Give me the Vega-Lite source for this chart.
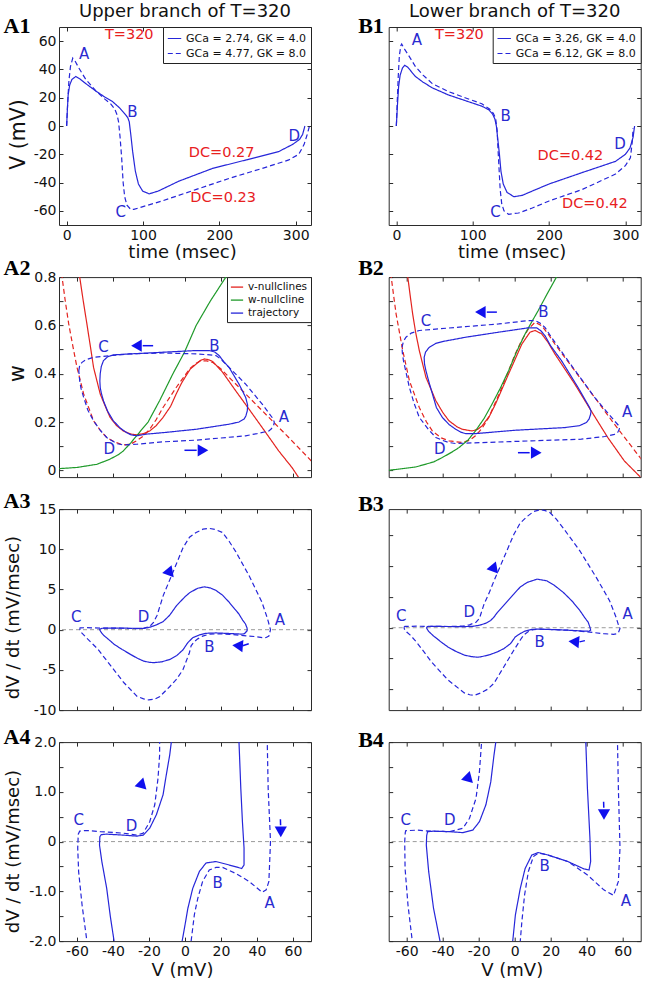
{
"$schema":"https://vega.github.io/schema/vega-lite/v6.json",
"background":"white",
"padding":{"left":2,"top":2,"right":2,"bottom":2},
"config":{
 "font":"DejaVu Sans",
 "view":{"stroke":"#2b2b2b","strokeWidth":1},
 "axis":{"grid":false,"domain":false,"tickSize":-4,"tickColor":"#2b2b2b","tickWidth":1,"labelFontSize":14,"labelColor":"#111","labelPadding":7,"labelFlush":false,"labelOverlap":false,"labelBound":false,"titleFontSize":18,"titleFontWeight":"normal","titleColor":"#111","labelFont":"DejaVu Sans","titleFont":"DejaVu Sans"},
 "legend":{"labelFont":"DejaVu Sans","labelColor":"#111"},
 "text":{"font":"DejaVu Sans"}
},
"datasets":{
 "a1c":[
  {"g":"s","x":0,"y":0},{"g":"s","x":1,"y":12},{"g":"s","x":2,"y":22},{"g":"s","x":4,"y":29},{"g":"s","x":7,"y":33},{"g":"s","x":12,"y":35},{"g":"s","x":18,"y":33},{"g":"s","x":25,"y":30},{"g":"s","x":38,"y":24.8},{"g":"s","x":50,"y":20.5},{"g":"s","x":60,"y":17.3},{"g":"s","x":69,"y":13},{"g":"s","x":75.5,"y":9},{"g":"s","x":80,"y":6},{"g":"s","x":82,"y":3},{"g":"s","x":84,"y":-6},{"g":"s","x":86.4,"y":-17.8},{"g":"s","x":90,"y":-32},{"g":"s","x":94,"y":-41},{"g":"s","x":99.5,"y":-46},{"g":"s","x":108,"y":-48},{"g":"s","x":120,"y":-46},{"g":"s","x":147,"y":-39},{"g":"s","x":191,"y":-30},{"g":"s","x":235,"y":-24},{"g":"s","x":278,"y":-18},{"g":"s","x":296,"y":-13},{"g":"s","x":305,"y":-9.5},{"g":"s","x":309,"y":-6},{"g":"s","x":312,"y":0},
  {"g":"d","x":0,"y":0},{"g":"d","x":1.5,"y":18},{"g":"d","x":3,"y":32},{"g":"d","x":5,"y":42},{"g":"d","x":8,"y":48},{"g":"d","x":11,"y":46},{"g":"d","x":16,"y":41},{"g":"d","x":25,"y":33},{"g":"d","x":38,"y":25},{"g":"d","x":50,"y":19},{"g":"d","x":58,"y":15.5},{"g":"d","x":63,"y":12},{"g":"d","x":66,"y":8},{"g":"d","x":68,"y":3},{"g":"d","x":70,"y":-8},{"g":"d","x":72,"y":-22},{"g":"d","x":74,"y":-40},{"g":"d","x":76,"y":-50},{"g":"d","x":79,"y":-56},{"g":"d","x":84,"y":-59},{"g":"d","x":88,"y":-59},{"g":"d","x":100,"y":-57},{"g":"d","x":125,"y":-53},{"g":"d","x":169,"y":-45},{"g":"d","x":213,"y":-37},{"g":"d","x":256,"y":-30},{"g":"d","x":291,"y":-24},{"g":"d","x":304,"y":-20},{"g":"d","x":311,"y":-13},{"g":"d","x":315,"y":-6},{"g":"d","x":318,"y":0}
 ],
 "a1l":[{"t":"A","x":23,"y":51},{"t":"B","x":86,"y":10},{"t":"C","x":71,"y":-61},{"t":"D","x":298,"y":-7}],
 "a1r":[{"t":"T=320","x":82,"y":64},{"t":"DC=0.27","x":203,"y":-19},{"t":"DC=0.23","x":205,"y":-50.6}],
 "b1c":[
  {"g":"s","x":0,"y":0},{"g":"s","x":1.5,"y":15},{"g":"s","x":3,"y":28},{"g":"s","x":5,"y":36},{"g":"s","x":8,"y":41},{"g":"s","x":11,"y":43},{"g":"s","x":15,"y":41.5},{"g":"s","x":25,"y":35},{"g":"s","x":35,"y":31},{"g":"s","x":47,"y":27},{"g":"s","x":68,"y":22},{"g":"s","x":90,"y":18},{"g":"s","x":112,"y":14},{"g":"s","x":121,"y":11.5},{"g":"s","x":126,"y":8.5},{"g":"s","x":129,"y":5},{"g":"s","x":131,"y":0},{"g":"s","x":133,"y":-10},{"g":"s","x":135,"y":-20},{"g":"s","x":137,"y":-32},{"g":"s","x":140,"y":-41},{"g":"s","x":145,"y":-47},{"g":"s","x":154,"y":-50},{"g":"s","x":165,"y":-49},{"g":"s","x":178,"y":-46},{"g":"s","x":200,"y":-41},{"g":"s","x":243,"y":-33},{"g":"s","x":287,"y":-25},{"g":"s","x":300,"y":-20},{"g":"s","x":306,"y":-15.5},{"g":"s","x":310,"y":-8},{"g":"s","x":312,"y":0},
  {"g":"d","x":0,"y":0},{"g":"d","x":1,"y":15},{"g":"d","x":2.5,"y":35},{"g":"d","x":4,"y":50},{"g":"d","x":6,"y":57},{"g":"d","x":7,"y":58},{"g":"d","x":10,"y":55},{"g":"d","x":16,"y":50},{"g":"d","x":25,"y":42},{"g":"d","x":35,"y":36},{"g":"d","x":47,"y":30},{"g":"d","x":68,"y":24.4},{"g":"d","x":90,"y":20},{"g":"d","x":112,"y":15.7},{"g":"d","x":122,"y":12},{"g":"d","x":127,"y":9},{"g":"d","x":130,"y":5.5},{"g":"d","x":132,"y":-3},{"g":"d","x":133,"y":-15},{"g":"d","x":134.5,"y":-30},{"g":"d","x":136,"y":-45},{"g":"d","x":138,"y":-55},{"g":"d","x":141,"y":-60},{"g":"d","x":147,"y":-62.4},{"g":"d","x":160,"y":-61.5},{"g":"d","x":178,"y":-58},{"g":"d","x":200,"y":-53},{"g":"d","x":243,"y":-45},{"g":"d","x":287,"y":-34},{"g":"d","x":300,"y":-28},{"g":"d","x":306.5,"y":-22.5},{"g":"d","x":309,"y":-11},{"g":"d","x":310,"y":-1.5}
 ],
 "b1l":[{"t":"A","x":27,"y":60.7},{"t":"B","x":143,"y":6.8},{"t":"C","x":130,"y":-61},{"t":"D","x":293,"y":-13}],
 "b1r":[{"t":"T=320","x":82.5,"y":64},{"t":"DC=0.42","x":228,"y":-21.3},{"t":"DC=0.42","x":260,"y":-55.3}],
 "a2c":[
  {"k":"v-nullclines","g":"s","x":-59,"y":0.85},{"k":"v-nullclines","g":"s","x":-58.5,"y":0.8},{"k":"v-nullclines","g":"s","x":-56.5,"y":0.7},{"k":"v-nullclines","g":"s","x":-54.5,"y":0.606},{"k":"v-nullclines","g":"s","x":-52.5,"y":0.51},{"k":"v-nullclines","g":"s","x":-50.8,"y":0.426},{"k":"v-nullclines","g":"s","x":-47.1,"y":0.316},{"k":"v-nullclines","g":"s","x":-44,"y":0.26},{"k":"v-nullclines","g":"s","x":-41.6,"y":0.219},{"k":"v-nullclines","g":"s","x":-38,"y":0.185},{"k":"v-nullclines","g":"s","x":-34.3,"y":0.163},{"k":"v-nullclines","g":"s","x":-30,"y":0.15},{"k":"v-nullclines","g":"s","x":-26.9,"y":0.147},{"k":"v-nullclines","g":"s","x":-23,"y":0.152},{"k":"v-nullclines","g":"s","x":-19.6,"y":0.163},{"k":"v-nullclines","g":"s","x":-16,"y":0.185},{"k":"v-nullclines","g":"s","x":-12.2,"y":0.219},{"k":"v-nullclines","g":"s","x":-8,"y":0.265},{"k":"v-nullclines","g":"s","x":-4.9,"y":0.316},{"k":"v-nullclines","g":"s","x":-2,"y":0.36},{"k":"v-nullclines","g":"s","x":0.6,"y":0.392},{"k":"v-nullclines","g":"s","x":3,"y":0.42},{"k":"v-nullclines","g":"s","x":6.2,"y":0.44},{"k":"v-nullclines","g":"s","x":8.5,"y":0.455},{"k":"v-nullclines","g":"s","x":10.8,"y":0.461},{"k":"v-nullclines","g":"s","x":13,"y":0.458},{"k":"v-nullclines","g":"s","x":15.3,"y":0.451},{"k":"v-nullclines","g":"s","x":18,"y":0.43},{"k":"v-nullclines","g":"s","x":20.9,"y":0.406},{"k":"v-nullclines","g":"s","x":28.2,"y":0.329},{"k":"v-nullclines","g":"s","x":35.6,"y":0.253},{"k":"v-nullclines","g":"s","x":42.9,"y":0.177},{"k":"v-nullclines","g":"s","x":52.1,"y":0.08},{"k":"v-nullclines","g":"s","x":59.5,"y":0.011},{"k":"v-nullclines","g":"s","x":64.5,"y":-0.045},
  {"k":"v-nullclines","g":"d","x":-68.8,"y":0.85},{"k":"v-nullclines","g":"d","x":-68.3,"y":0.8},{"k":"v-nullclines","g":"d","x":-66.5,"y":0.7},{"k":"v-nullclines","g":"d","x":-64.6,"y":0.606},{"k":"v-nullclines","g":"d","x":-62.2,"y":0.51},{"k":"v-nullclines","g":"d","x":-60,"y":0.426},{"k":"v-nullclines","g":"d","x":-56.3,"y":0.316},{"k":"v-nullclines","g":"d","x":-50.8,"y":0.205},{"k":"v-nullclines","g":"d","x":-47,"y":0.165},{"k":"v-nullclines","g":"d","x":-43.5,"y":0.136},{"k":"v-nullclines","g":"d","x":-39,"y":0.117},{"k":"v-nullclines","g":"d","x":-34.3,"y":0.105},{"k":"v-nullclines","g":"d","x":-30.5,"y":0.108},{"k":"v-nullclines","g":"d","x":-26.9,"y":0.122},{"k":"v-nullclines","g":"d","x":-23,"y":0.143},{"k":"v-nullclines","g":"d","x":-19.6,"y":0.17},{"k":"v-nullclines","g":"d","x":-16,"y":0.21},{"k":"v-nullclines","g":"d","x":-12.2,"y":0.26},{"k":"v-nullclines","g":"d","x":-4.9,"y":0.343},{"k":"v-nullclines","g":"d","x":2.5,"y":0.419},{"k":"v-nullclines","g":"d","x":6,"y":0.443},{"k":"v-nullclines","g":"d","x":8.9,"y":0.454},{"k":"v-nullclines","g":"d","x":12,"y":0.453},{"k":"v-nullclines","g":"d","x":15.3,"y":0.447},{"k":"v-nullclines","g":"d","x":20,"y":0.42},{"k":"v-nullclines","g":"d","x":24.5,"y":0.385},{"k":"v-nullclines","g":"d","x":35.6,"y":0.302},{"k":"v-nullclines","g":"d","x":46.6,"y":0.219},{"k":"v-nullclines","g":"d","x":57.6,"y":0.136},{"k":"v-nullclines","g":"d","x":72,"y":0.025},
  {"k":"w-nullcline","g":"s","x":-70,"y":0.007},{"k":"w-nullcline","g":"s","x":-60,"y":0.012},{"k":"w-nullcline","g":"s","x":-49,"y":0.025},{"k":"w-nullcline","g":"s","x":-42,"y":0.045},{"k":"w-nullcline","g":"s","x":-37,"y":0.065},{"k":"w-nullcline","g":"s","x":-34.3,"y":0.08},{"k":"w-nullcline","g":"s","x":-30,"y":0.115},{"k":"w-nullcline","g":"s","x":-25,"y":0.16},{"k":"w-nullcline","g":"s","x":-20.5,"y":0.2},{"k":"w-nullcline","g":"s","x":-14,"y":0.29},{"k":"w-nullcline","g":"s","x":-6.7,"y":0.4},{"k":"w-nullcline","g":"s","x":-0.3,"y":0.489},{"k":"w-nullcline","g":"s","x":6.2,"y":0.6},{"k":"w-nullcline","g":"s","x":14,"y":0.7},{"k":"w-nullcline","g":"s","x":22.7,"y":0.8},{"k":"w-nullcline","g":"s","x":25,"y":0.83},
  {"k":"trajectory","g":"s","x":-47.1,"y":0.4},{"k":"trajectory","g":"s","x":-46.5,"y":0.43},{"k":"trajectory","g":"s","x":-45.3,"y":0.454},{"k":"trajectory","g":"s","x":-43,"y":0.47},{"k":"trajectory","g":"s","x":-39.8,"y":0.478},{"k":"trajectory","g":"s","x":-30.6,"y":0.482},{"k":"trajectory","g":"s","x":-12.2,"y":0.489},{"k":"trajectory","g":"s","x":6.2,"y":0.496},{"k":"trajectory","g":"s","x":13.5,"y":0.496},{"k":"trajectory","g":"s","x":16.5,"y":0.49},{"k":"trajectory","g":"s","x":19,"y":0.475},{"k":"trajectory","g":"s","x":21.5,"y":0.45},{"k":"trajectory","g":"s","x":24.5,"y":0.426},{"k":"trajectory","g":"s","x":30,"y":0.357},{"k":"trajectory","g":"s","x":33.7,"y":0.302},{"k":"trajectory","g":"s","x":34.8,"y":0.27},{"k":"trajectory","g":"s","x":34.6,"y":0.246},{"k":"trajectory","g":"s","x":33.8,"y":0.225},{"k":"trajectory","g":"s","x":32.8,"y":0.212},{"k":"trajectory","g":"s","x":30,"y":0.2},{"k":"trajectory","g":"s","x":24.5,"y":0.191},{"k":"trajectory","g":"s","x":6.2,"y":0.17},{"k":"trajectory","g":"s","x":-12.2,"y":0.156},{"k":"trajectory","g":"s","x":-21.4,"y":0.15},{"k":"trajectory","g":"s","x":-26.9,"y":0.143},{"k":"trajectory","g":"s","x":-30,"y":0.147},{"k":"trajectory","g":"s","x":-32.4,"y":0.156},{"k":"trajectory","g":"s","x":-36,"y":0.175},{"k":"trajectory","g":"s","x":-39.8,"y":0.205},{"k":"trajectory","g":"s","x":-43,"y":0.245},{"k":"trajectory","g":"s","x":-45.3,"y":0.288},{"k":"trajectory","g":"s","x":-46.5,"y":0.32},{"k":"trajectory","g":"s","x":-47.1,"y":0.343},{"k":"trajectory","g":"s","x":-47.3,"y":0.37},{"k":"trajectory","g":"s","x":-47.1,"y":0.4},
  {"k":"trajectory","g":"d","x":-59,"y":0.412},{"k":"trajectory","g":"d","x":-58.5,"y":0.435},{"k":"trajectory","g":"d","x":-57.2,"y":0.447},{"k":"trajectory","g":"d","x":-55,"y":0.458},{"k":"trajectory","g":"d","x":-50.8,"y":0.468},{"k":"trajectory","g":"d","x":-40,"y":0.476},{"k":"trajectory","g":"d","x":-30.6,"y":0.482},{"k":"trajectory","g":"d","x":-12.2,"y":0.486},{"k":"trajectory","g":"d","x":6.2,"y":0.482},{"k":"trajectory","g":"d","x":12,"y":0.479},{"k":"trajectory","g":"d","x":17.2,"y":0.475},{"k":"trajectory","g":"d","x":20,"y":0.46},{"k":"trajectory","g":"d","x":24.5,"y":0.426},{"k":"trajectory","g":"d","x":33.7,"y":0.357},{"k":"trajectory","g":"d","x":42.9,"y":0.274},{"k":"trajectory","g":"d","x":48.4,"y":0.219},{"k":"trajectory","g":"d","x":49.6,"y":0.2},{"k":"trajectory","g":"d","x":49.3,"y":0.188},{"k":"trajectory","g":"d","x":48,"y":0.172},{"k":"trajectory","g":"d","x":46.6,"y":0.163},{"k":"trajectory","g":"d","x":40,"y":0.152},{"k":"trajectory","g":"d","x":33.7,"y":0.143},{"k":"trajectory","g":"d","x":6.2,"y":0.125},{"k":"trajectory","g":"d","x":-12.2,"y":0.118},{"k":"trajectory","g":"d","x":-26.9,"y":0.108},{"k":"trajectory","g":"d","x":-34.3,"y":0.105},{"k":"trajectory","g":"d","x":-37.5,"y":0.11},{"k":"trajectory","g":"d","x":-40,"y":0.12},{"k":"trajectory","g":"d","x":-43.5,"y":0.136},{"k":"trajectory","g":"d","x":-47,"y":0.165},{"k":"trajectory","g":"d","x":-50.8,"y":0.205},{"k":"trajectory","g":"d","x":-54,"y":0.25},{"k":"trajectory","g":"d","x":-56.3,"y":0.302},{"k":"trajectory","g":"d","x":-57.8,"y":0.34},{"k":"trajectory","g":"d","x":-58.5,"y":0.371},{"k":"trajectory","g":"d","x":-59,"y":0.412}
 ],
 "a2l":[{"t":"C","x":-45.3,"y":0.509},{"t":"B","x":16.3,"y":0.516},{"t":"A","x":54.9,"y":0.221},{"t":"D","x":-42,"y":0.087}],
 "a2t":[{"x":-26,"y":0.516,"d":270},{"x":9,"y":0.083,"d":90}],
 "a2s":[{"x":-23.5,"y":0.516,"x2":-17.7,"y2":0.516},{"x":-0.3,"y":0.083,"x2":6.5,"y2":0.083}],
 "b2c":[
  {"k":"v-nullclines","g":"s","x":-59.8,"y":0.85},{"k":"v-nullclines","g":"s","x":-59.4,"y":0.8},{"k":"v-nullclines","g":"s","x":-58,"y":0.72},{"k":"v-nullclines","g":"s","x":-56.7,"y":0.648},{"k":"v-nullclines","g":"s","x":-55,"y":0.57},{"k":"v-nullclines","g":"s","x":-53,"y":0.496},{"k":"v-nullclines","g":"s","x":-49.3,"y":0.385},{"k":"v-nullclines","g":"s","x":-43.8,"y":0.288},{"k":"v-nullclines","g":"s","x":-40,"y":0.24},{"k":"v-nullclines","g":"s","x":-36.5,"y":0.205},{"k":"v-nullclines","g":"s","x":-32,"y":0.18},{"k":"v-nullclines","g":"s","x":-29.1,"y":0.17},{"k":"v-nullclines","g":"s","x":-23.6,"y":0.163},{"k":"v-nullclines","g":"s","x":-20.5,"y":0.17},{"k":"v-nullclines","g":"s","x":-18.1,"y":0.184},{"k":"v-nullclines","g":"s","x":-14,"y":0.225},{"k":"v-nullclines","g":"s","x":-10.7,"y":0.274},{"k":"v-nullclines","g":"s","x":-3.4,"y":0.399},{"k":"v-nullclines","g":"s","x":4,"y":0.523},{"k":"v-nullclines","g":"s","x":8.5,"y":0.572},{"k":"v-nullclines","g":"s","x":11.3,"y":0.579},{"k":"v-nullclines","g":"s","x":15,"y":0.565},{"k":"v-nullclines","g":"s","x":18.5,"y":0.53},{"k":"v-nullclines","g":"s","x":22.3,"y":0.482},{"k":"v-nullclines","g":"s","x":33.4,"y":0.357},{"k":"v-nullclines","g":"s","x":42.5,"y":0.246},{"k":"v-nullclines","g":"s","x":51.7,"y":0.136},{"k":"v-nullclines","g":"s","x":60.9,"y":0.039},{"k":"v-nullclines","g":"s","x":69.2,"y":-0.023},{"k":"v-nullclines","g":"s","x":71,"y":-0.04},
  {"k":"v-nullclines","g":"d","x":-69,"y":0.85},{"k":"v-nullclines","g":"d","x":-68.6,"y":0.8},{"k":"v-nullclines","g":"d","x":-67.2,"y":0.72},{"k":"v-nullclines","g":"d","x":-65.9,"y":0.648},{"k":"v-nullclines","g":"d","x":-64,"y":0.57},{"k":"v-nullclines","g":"d","x":-62.2,"y":0.496},{"k":"v-nullclines","g":"d","x":-58.5,"y":0.371},{"k":"v-nullclines","g":"d","x":-53,"y":0.26},{"k":"v-nullclines","g":"d","x":-49,"y":0.2},{"k":"v-nullclines","g":"d","x":-45.7,"y":0.163},{"k":"v-nullclines","g":"d","x":-41,"y":0.135},{"k":"v-nullclines","g":"d","x":-36.5,"y":0.122},{"k":"v-nullclines","g":"d","x":-29.1,"y":0.115},{"k":"v-nullclines","g":"d","x":-25,"y":0.125},{"k":"v-nullclines","g":"d","x":-21.8,"y":0.143},{"k":"v-nullclines","g":"d","x":-18,"y":0.175},{"k":"v-nullclines","g":"d","x":-14.4,"y":0.219},{"k":"v-nullclines","g":"d","x":-7.1,"y":0.343},{"k":"v-nullclines","g":"d","x":0.3,"y":0.482},{"k":"v-nullclines","g":"d","x":4,"y":0.54},{"k":"v-nullclines","g":"d","x":7.6,"y":0.585},{"k":"v-nullclines","g":"d","x":11.3,"y":0.613},{"k":"v-nullclines","g":"d","x":15,"y":0.599},{"k":"v-nullclines","g":"d","x":18.5,"y":0.565},{"k":"v-nullclines","g":"d","x":22.3,"y":0.523},{"k":"v-nullclines","g":"d","x":33.4,"y":0.412},{"k":"v-nullclines","g":"d","x":44.4,"y":0.302},{"k":"v-nullclines","g":"d","x":55.4,"y":0.191},{"k":"v-nullclines","g":"d","x":71,"y":0.04},
  {"k":"w-nullcline","g":"s","x":-70,"y":0.0},{"k":"w-nullcline","g":"s","x":-54.9,"y":0.014},{"k":"w-nullcline","g":"s","x":-45,"y":0.035},{"k":"w-nullcline","g":"s","x":-40.2,"y":0.053},{"k":"w-nullcline","g":"s","x":-35,"y":0.075},{"k":"w-nullcline","g":"s","x":-31,"y":0.094},{"k":"w-nullcline","g":"s","x":-26,"y":0.125},{"k":"w-nullcline","g":"s","x":-21.8,"y":0.163},{"k":"w-nullcline","g":"s","x":-17,"y":0.215},{"k":"w-nullcline","g":"s","x":-12.6,"y":0.274},{"k":"w-nullcline","g":"s","x":-8,"y":0.34},{"k":"w-nullcline","g":"s","x":-3.4,"y":0.412},{"k":"w-nullcline","g":"s","x":1,"y":0.49},{"k":"w-nullcline","g":"s","x":5.8,"y":0.565},{"k":"w-nullcline","g":"s","x":9.5,"y":0.615},{"k":"w-nullcline","g":"s","x":13.1,"y":0.662},{"k":"w-nullcline","g":"s","x":18,"y":0.73},{"k":"w-nullcline","g":"s","x":23.2,"y":0.8},{"k":"w-nullcline","g":"s","x":25,"y":0.825},
  {"k":"trajectory","g":"s","x":-50.3,"y":0.468},{"k":"trajectory","g":"s","x":-49.5,"y":0.49},{"k":"trajectory","g":"s","x":-47.5,"y":0.509},{"k":"trajectory","g":"s","x":-44,"y":0.525},{"k":"trajectory","g":"s","x":-40.2,"y":0.533},{"k":"trajectory","g":"s","x":-27.3,"y":0.551},{"k":"trajectory","g":"s","x":-8.9,"y":0.572},{"k":"trajectory","g":"s","x":7.6,"y":0.59},{"k":"trajectory","g":"s","x":12.2,"y":0.59},{"k":"trajectory","g":"s","x":14.5,"y":0.578},{"k":"trajectory","g":"s","x":16.8,"y":0.558},{"k":"trajectory","g":"s","x":20,"y":0.515},{"k":"trajectory","g":"s","x":26,"y":0.454},{"k":"trajectory","g":"s","x":35.2,"y":0.343},{"k":"trajectory","g":"s","x":41.6,"y":0.26},{"k":"trajectory","g":"s","x":42.4,"y":0.245},{"k":"trajectory","g":"s","x":42.2,"y":0.233},{"k":"trajectory","g":"s","x":41.3,"y":0.212},{"k":"trajectory","g":"s","x":39.8,"y":0.198},{"k":"trajectory","g":"s","x":36,"y":0.185},{"k":"trajectory","g":"s","x":27.8,"y":0.177},{"k":"trajectory","g":"s","x":0.3,"y":0.166},{"k":"trajectory","g":"s","x":-21.8,"y":0.152},{"k":"trajectory","g":"s","x":-27.3,"y":0.152},{"k":"trajectory","g":"s","x":-30,"y":0.158},{"k":"trajectory","g":"s","x":-32.8,"y":0.17},{"k":"trajectory","g":"s","x":-36.5,"y":0.19},{"k":"trajectory","g":"s","x":-40.2,"y":0.219},{"k":"trajectory","g":"s","x":-43.5,"y":0.26},{"k":"trajectory","g":"s","x":-45.7,"y":0.316},{"k":"trajectory","g":"s","x":-47.8,"y":0.37},{"k":"trajectory","g":"s","x":-49.3,"y":0.412},{"k":"trajectory","g":"s","x":-50.1,"y":0.44},{"k":"trajectory","g":"s","x":-50.3,"y":0.468},
  {"k":"trajectory","g":"d","x":-62.6,"y":0.509},{"k":"trajectory","g":"d","x":-61.8,"y":0.535},{"k":"trajectory","g":"d","x":-60.4,"y":0.551},{"k":"trajectory","g":"d","x":-57.5,"y":0.568},{"k":"trajectory","g":"d","x":-53,"y":0.579},{"k":"trajectory","g":"d","x":-27.3,"y":0.595},{"k":"trajectory","g":"d","x":-8.9,"y":0.606},{"k":"trajectory","g":"d","x":7.6,"y":0.62},{"k":"trajectory","g":"d","x":11.3,"y":0.62},{"k":"trajectory","g":"d","x":14,"y":0.61},{"k":"trajectory","g":"d","x":16.8,"y":0.592},{"k":"trajectory","g":"d","x":20,"y":0.555},{"k":"trajectory","g":"d","x":29.6,"y":0.454},{"k":"trajectory","g":"d","x":44.4,"y":0.302},{"k":"trajectory","g":"d","x":55.4,"y":0.205},{"k":"trajectory","g":"d","x":57.8,"y":0.185},{"k":"trajectory","g":"d","x":58.2,"y":0.172},{"k":"trajectory","g":"d","x":57.3,"y":0.158},{"k":"trajectory","g":"d","x":55.4,"y":0.149},{"k":"trajectory","g":"d","x":50,"y":0.14},{"k":"trajectory","g":"d","x":37,"y":0.129},{"k":"trajectory","g":"d","x":9.5,"y":0.122},{"k":"trajectory","g":"d","x":-18.1,"y":0.115},{"k":"trajectory","g":"d","x":-32.8,"y":0.111},{"k":"trajectory","g":"d","x":-36.5,"y":0.115},{"k":"trajectory","g":"d","x":-40,"y":0.124},{"k":"trajectory","g":"d","x":-43.8,"y":0.136},{"k":"trajectory","g":"d","x":-48,"y":0.17},{"k":"trajectory","g":"d","x":-53,"y":0.219},{"k":"trajectory","g":"d","x":-56,"y":0.28},{"k":"trajectory","g":"d","x":-58.5,"y":0.343},{"k":"trajectory","g":"d","x":-60.5,"y":0.41},{"k":"trajectory","g":"d","x":-61.8,"y":0.454},{"k":"trajectory","g":"d","x":-62.4,"y":0.485},{"k":"trajectory","g":"d","x":-62.6,"y":0.509}
 ],
 "b2l":[{"t":"C","x":-49.3,"y":0.62},{"t":"B","x":15.9,"y":0.655},{"t":"A","x":62.4,"y":0.24},{"t":"D","x":-41.6,"y":0.087}],
 "b2t":[{"x":-18.1,"y":0.655,"d":270},{"x":11,"y":0.073,"d":90}],
 "b2s":[{"x":-15.5,"y":0.655,"x2":-9.9,"y2":0.655},{"x":1.8,"y":0.073,"x2":8.3,"y2":0.073}],
 "a3c":[
  {"g":"s","x":-47.6,"y":0.05},{"g":"s","x":-46,"y":0.18},{"g":"s","x":-40,"y":0.2},{"g":"s","x":-30,"y":0.18},{"g":"s","x":-23,"y":0.15},{"g":"s","x":-19.6,"y":0.3},{"g":"s","x":-15.9,"y":0.6},{"g":"s","x":-12.2,"y":1.0},{"g":"s","x":-8.5,"y":1.8},{"g":"s","x":-4.7,"y":3.0},{"g":"s","x":0,"y":4.1},{"g":"s","x":2.6,"y":4.6},{"g":"s","x":7,"y":5.15},{"g":"s","x":10.8,"y":5.33},{"g":"s","x":14,"y":5.2},{"g":"s","x":17.1,"y":4.9},{"g":"s","x":20.8,"y":4.3},{"g":"s","x":24.4,"y":3.45},{"g":"s","x":27.5,"y":2.6},{"g":"s","x":29.9,"y":1.97},{"g":"s","x":32,"y":1.2},{"g":"s","x":33.6,"y":0.71},{"g":"s","x":34.5,"y":0.2},{"g":"s","x":34.5,"y":-0.13},{"g":"s","x":33,"y":-0.5},{"g":"s","x":31.5,"y":-0.55},{"g":"s","x":24.5,"y":-0.47},{"g":"s","x":17.2,"y":-0.4},{"g":"s","x":11.7,"y":-0.45},{"g":"s","x":8,"y":-0.65},{"g":"s","x":4.3,"y":-1.0},{"g":"s","x":1.6,"y":-1.6},{"g":"s","x":-1.1,"y":-2.5},{"g":"s","x":-4.5,"y":-3.2},{"g":"s","x":-8.4,"y":-3.7},{"g":"s","x":-13,"y":-4.0},{"g":"s","x":-17.5,"y":-4.1},{"g":"s","x":-20,"y":-4.05},{"g":"s","x":-23,"y":-3.9},{"g":"s","x":-26.5,"y":-3.55},{"g":"s","x":-30.3,"y":-3.07},{"g":"s","x":-35,"y":-2.45},{"g":"s","x":-39.4,"y":-1.81},{"g":"s","x":-42.5,"y":-1.2},{"g":"s","x":-44.9,"y":-0.76},{"g":"s","x":-46.5,"y":-0.35},{"g":"s","x":-47.6,"y":0.05},
  {"g":"d","x":-58.5,"y":0.1},{"g":"d","x":-58.3,"y":0.22},{"g":"d","x":-55,"y":0.25},{"g":"d","x":-47,"y":0.2},{"g":"d","x":-34,"y":0.18},{"g":"d","x":-27,"y":0.13},{"g":"d","x":-23.2,"y":0.17},{"g":"d","x":-19.6,"y":0.4},{"g":"d","x":-17.5,"y":0.9},{"g":"d","x":-15.5,"y":1.8},{"g":"d","x":-12,"y":4.3},{"g":"d","x":-6.6,"y":7.2},{"g":"d","x":-1.1,"y":10.2},{"g":"d","x":2.5,"y":11.5},{"g":"d","x":6.2,"y":12.1},{"g":"d","x":10,"y":12.5},{"g":"d","x":13.5,"y":12.6},{"g":"d","x":17,"y":12.45},{"g":"d","x":20.8,"y":12.1},{"g":"d","x":24.5,"y":11},{"g":"d","x":28.1,"y":9.75},{"g":"d","x":35.4,"y":6.8},{"g":"d","x":42.7,"y":3.45},{"g":"d","x":45.5,"y":1.6},{"g":"d","x":46.2,"y":1.07},{"g":"d","x":47.5,"y":0.0},{"g":"d","x":46.6,"y":-0.8},{"g":"d","x":45.1,"y":-0.97},{"g":"d","x":43,"y":-1.0},{"g":"d","x":39,"y":-0.85},{"g":"d","x":35.6,"y":-0.8},{"g":"d","x":28.2,"y":-0.64},{"g":"d","x":20.9,"y":-0.52},{"g":"d","x":17.2,"y":-0.52},{"g":"d","x":13.5,"y":-0.57},{"g":"d","x":9.8,"y":-0.8},{"g":"d","x":7.1,"y":-1.14},{"g":"d","x":5.2,"y":-1.47},{"g":"d","x":3.4,"y":-2.0},{"g":"d","x":2.4,"y":-2.9},{"g":"d","x":-1.1,"y":-4.96},{"g":"d","x":-4.5,"y":-6.1},{"g":"d","x":-8.4,"y":-7.06},{"g":"d","x":-13.9,"y":-8.3},{"g":"d","x":-17,"y":-8.65},{"g":"d","x":-20.2,"y":-8.74},{"g":"d","x":-23,"y":-8.6},{"g":"d","x":-26.6,"y":-8.3},{"g":"d","x":-33.9,"y":-6.6},{"g":"d","x":-41.2,"y":-4.5},{"g":"d","x":-48.5,"y":-2.4},{"g":"d","x":-54,"y":-1.18},{"g":"d","x":-57.6,"y":-0.34},{"g":"d","x":-58.5,"y":0.1}
 ],
 "a3l":[{"t":"C","x":-60.4,"y":1.56},{"t":"D","x":-23,"y":1.56},{"t":"A","x":52.7,"y":1.26},{"t":"B","x":13.5,"y":-2.1}],
 "a3t":[{"x":-8.8,"y":7.2,"d":20},{"x":30.2,"y":-2.0,"d":275}],
 "a3s":[{"x":32,"y":-2.0,"x2":35.4,"y2":-1.75}],
 "b3c":[
  {"g":"s","x":-49.1,"y":0.0},{"g":"s","x":-48.4,"y":0.2},{"g":"s","x":-45,"y":0.21},{"g":"s","x":-36,"y":0.2},{"g":"s","x":-28.7,"y":0.18},{"g":"s","x":-23.3,"y":0.23},{"g":"s","x":-19.6,"y":0.4},{"g":"s","x":-16,"y":0.74},{"g":"s","x":-13.3,"y":1.2},{"g":"s","x":-11.5,"y":1.74},{"g":"s","x":-9.6,"y":2.5},{"g":"s","x":-5,"y":4.0},{"g":"s","x":-0.5,"y":5.48},{"g":"s","x":3,"y":6.6},{"g":"s","x":6.9,"y":7.37},{"g":"s","x":12.4,"y":7.9},{"g":"s","x":17.9,"y":7.63},{"g":"s","x":22,"y":6.9},{"g":"s","x":27,"y":5.75},{"g":"s","x":32,"y":4.3},{"g":"s","x":36.2,"y":2.8},{"g":"s","x":39,"y":1.6},{"g":"s","x":40.8,"y":0.91},{"g":"s","x":41.8,"y":0.07},{"g":"s","x":42.2,"y":-0.4},{"g":"s","x":41.3,"y":-0.57},{"g":"s","x":38.5,"y":-0.55},{"g":"s","x":29.5,"y":-0.4},{"g":"s","x":18.5,"y":-0.27},{"g":"s","x":13.1,"y":-0.22},{"g":"s","x":9.5,"y":-0.27},{"g":"s","x":5.8,"y":-0.54},{"g":"s","x":3.1,"y":-0.94},{"g":"s","x":0.4,"y":-1.47},{"g":"s","x":-2.3,"y":-2.58},{"g":"s","x":-6,"y":-3.4},{"g":"s","x":-9.6,"y":-3.92},{"g":"s","x":-14,"y":-4.4},{"g":"s","x":-18.8,"y":-4.73},{"g":"s","x":-20.6,"y":-4.8},{"g":"s","x":-24,"y":-4.7},{"g":"s","x":-27.9,"y":-4.46},{"g":"s","x":-33,"y":-3.8},{"g":"s","x":-37.1,"y":-3.12},{"g":"s","x":-41,"y":-2.3},{"g":"s","x":-43.5,"y":-1.7},{"g":"s","x":-45.1,"y":-1.34},{"g":"s","x":-47.8,"y":-0.6},{"g":"s","x":-49.1,"y":0.0},
  {"g":"d","x":-61.5,"y":0.1},{"g":"d","x":-61,"y":0.22},{"g":"d","x":-54.2,"y":0.25},{"g":"d","x":-46.9,"y":0.22},{"g":"d","x":-36,"y":0.2},{"g":"d","x":-28.7,"y":0.27},{"g":"d","x":-25.1,"y":0.47},{"g":"d","x":-21.5,"y":0.9},{"g":"d","x":-19.6,"y":1.5},{"g":"d","x":-17,"y":3.87},{"g":"d","x":-14,"y":5.8},{"g":"d","x":-11.5,"y":7.63},{"g":"d","x":-6,"y":11.4},{"g":"d","x":-0.5,"y":15.16},{"g":"d","x":3,"y":17},{"g":"d","x":6.9,"y":18.1},{"g":"d","x":10.5,"y":18.9},{"g":"d","x":14.2,"y":19.2},{"g":"d","x":17,"y":19.05},{"g":"d","x":19.7,"y":18.7},{"g":"d","x":23,"y":17.7},{"g":"d","x":27,"y":16.2},{"g":"d","x":36.2,"y":12.5},{"g":"d","x":45.3,"y":8.2},{"g":"d","x":52.7,"y":4.4},{"g":"d","x":56.3,"y":1.72},{"g":"d","x":57.8,"y":0.3},{"g":"d","x":58.5,"y":-0.13},{"g":"d","x":57.6,"y":-0.8},{"g":"d","x":56.5,"y":-1.0},{"g":"d","x":54.9,"y":-1.08},{"g":"d","x":49.5,"y":-0.97},{"g":"d","x":40.4,"y":-0.67},{"g":"d","x":29.5,"y":-0.4},{"g":"d","x":18.5,"y":-0.27},{"g":"d","x":13.1,"y":-0.23},{"g":"d","x":10.4,"y":-0.3},{"g":"d","x":7.6,"y":-0.6},{"g":"d","x":5.5,"y":-1.07},{"g":"d","x":4,"y":-1.6},{"g":"d","x":3.1,"y":-2},{"g":"d","x":-0.5,"y":-3.66},{"g":"d","x":-6,"y":-6.34},{"g":"d","x":-11.5,"y":-9.03},{"g":"d","x":-15,"y":-10.0},{"g":"d","x":-18.8,"y":-10.6},{"g":"d","x":-22.4,"y":-11.0},{"g":"d","x":-25,"y":-10.9},{"g":"d","x":-28,"y":-10.6},{"g":"d","x":-37.1,"y":-8.5},{"g":"d","x":-46.3,"y":-5.54},{"g":"d","x":-52,"y":-3.3},{"g":"d","x":-55.4,"y":-2.04},{"g":"d","x":-58,"y":-1.2},{"g":"d","x":-60,"y":-0.7},{"g":"d","x":-61.3,"y":-0.2},{"g":"d","x":-61.5,"y":0.1}
 ],
 "b3l":[{"t":"C","x":-63.1,"y":1.99},{"t":"D","x":-25.2,"y":2.53},{"t":"A","x":62.7,"y":2.26},{"t":"B","x":13.8,"y":-2.31}],
 "b3t":[{"x":-11.8,"y":9.7,"d":20},{"x":33.8,"y":-2.3,"d":275}],
 "b3s":[{"x":36,"y":-2.3,"x2":39,"y2":-2.1}],
 "a4c":[
  {"g":"s","p":"L","x":-39,"y":-2.1},{"g":"s","p":"L","x":-39.4,"y":-2.0},{"g":"s","p":"L","x":-41.5,"y":-1.5},{"g":"s","p":"L","x":-43.5,"y":-0.94},{"g":"s","p":"L","x":-46.2,"y":-0.4},{"g":"s","p":"L","x":-47.5,"y":-0.07},{"g":"s","p":"L","x":-47.3,"y":0.1},{"g":"s","p":"L","x":-46.5,"y":0.14},{"g":"s","p":"L","x":-43.5,"y":0.15},{"g":"s","p":"L","x":-34.3,"y":0.13},{"g":"s","p":"L","x":-26.9,"y":0.11},{"g":"s","p":"L","x":-23.2,"y":0.13},{"g":"s","p":"L","x":-19.6,"y":0.27},{"g":"s","p":"L","x":-15.9,"y":0.54},{"g":"s","p":"L","x":-12.2,"y":0.94},{"g":"s","p":"L","x":-10.4,"y":1.34},{"g":"s","p":"L","x":-8.5,"y":1.74},{"g":"s","p":"L","x":-7.6,"y":2.0},{"g":"s","p":"L","x":-7.4,"y":2.1},
  {"g":"s","p":"R","x":29.9,"y":2.1},{"g":"s","p":"R","x":30,"y":2.0},{"g":"s","p":"R","x":31,"y":1.07},{"g":"s","p":"R","x":31.9,"y":0.4},{"g":"s","p":"R","x":32.8,"y":-0.13},{"g":"s","p":"R","x":32.8,"y":-0.47},{"g":"s","p":"R","x":31.5,"y":-0.54},{"g":"s","p":"R","x":24.5,"y":-0.47},{"g":"s","p":"R","x":17.2,"y":-0.4},{"g":"s","p":"R","x":11.7,"y":-0.43},{"g":"s","p":"R","x":8,"y":-0.6},{"g":"s","p":"R","x":4.3,"y":-0.94},{"g":"s","p":"R","x":1.6,"y":-1.34},{"g":"s","p":"R","x":-0.3,"y":-1.74},{"g":"s","p":"R","x":-1.6,"y":-2.0},{"g":"s","p":"R","x":-1.8,"y":-2.1},
  {"g":"d","p":"L","x":-54.3,"y":-2.1},{"g":"d","p":"L","x":-54.5,"y":-2.0},{"g":"d","p":"L","x":-57.2,"y":-1.27},{"g":"d","p":"L","x":-59.1,"y":-0.6},{"g":"d","p":"L","x":-59.6,"y":-0.13},{"g":"d","p":"L","x":-59.3,"y":0.15},{"g":"d","p":"L","x":-58.5,"y":0.21},{"g":"d","p":"L","x":-56,"y":0.22},{"g":"d","p":"L","x":-52.6,"y":0.22},{"g":"d","p":"L","x":-47.1,"y":0.2},{"g":"d","p":"L","x":-34.3,"y":0.17},{"g":"d","p":"L","x":-26.9,"y":0.13},{"g":"d","p":"L","x":-23.2,"y":0.17},{"g":"d","p":"L","x":-19.6,"y":0.4},{"g":"d","p":"L","x":-16.8,"y":0.74},{"g":"d","p":"L","x":-15,"y":1.27},{"g":"d","p":"L","x":-14.1,"y":1.74},{"g":"d","p":"L","x":-14.1,"y":2.1},
  {"g":"d","p":"R","x":45.6,"y":2.1},{"g":"d","p":"R","x":45.7,"y":2.0},{"g":"d","p":"R","x":46.2,"y":1.07},{"g":"d","p":"R","x":47.5,"y":0.0},{"g":"d","p":"R","x":46.6,"y":-0.8},{"g":"d","p":"R","x":45.1,"y":-0.97},{"g":"d","p":"R","x":42.9,"y":-1.02},{"g":"d","p":"R","x":35.6,"y":-0.8},{"g":"d","p":"R","x":28.2,"y":-0.64},{"g":"d","p":"R","x":20.9,"y":-0.52},{"g":"d","p":"R","x":17.2,"y":-0.52},{"g":"d","p":"R","x":13.5,"y":-0.57},{"g":"d","p":"R","x":9.8,"y":-0.8},{"g":"d","p":"R","x":7.1,"y":-1.14},{"g":"d","p":"R","x":5.2,"y":-1.47},{"g":"d","p":"R","x":3.4,"y":-2.0},{"g":"d","p":"R","x":3.3,"y":-2.1}
 ],
 "a4l":[{"t":"C","x":-59.1,"y":0.43},{"t":"D","x":-29.7,"y":0.32},{"t":"B","x":18.1,"y":-0.84},{"t":"A","x":47,"y":-1.24}],
 "a4t":[{"x":-24.2,"y":1.15,"d":15},{"x":53.2,"y":0.23,"d":180}],
 "a4s":[{"x":53,"y":0.45,"x2":53.1,"y2":0.33}],
 "b4c":[
  {"g":"s","p":"L","x":-41.2,"y":-2.1},{"g":"s","p":"L","x":-41.5,"y":-2.0},{"g":"s","p":"L","x":-45.1,"y":-1.34},{"g":"s","p":"L","x":-47.8,"y":-0.6},{"g":"s","p":"L","x":-49.1,"y":-0.07},{"g":"s","p":"L","x":-48.9,"y":0.12},{"g":"s","p":"L","x":-48.4,"y":0.2},{"g":"s","p":"L","x":-45.1,"y":0.21},{"g":"s","p":"L","x":-36,"y":0.2},{"g":"s","p":"L","x":-28.7,"y":0.18},{"g":"s","p":"L","x":-23.3,"y":0.23},{"g":"s","p":"L","x":-19.6,"y":0.4},{"g":"s","p":"L","x":-16,"y":0.74},{"g":"s","p":"L","x":-13.3,"y":1.2},{"g":"s","p":"L","x":-11.5,"y":1.74},{"g":"s","p":"L","x":-10.5,"y":2.0},{"g":"s","p":"L","x":-10.3,"y":2.1},
  {"g":"s","p":"R","x":39.3,"y":2.1},{"g":"s","p":"R","x":39.5,"y":2.0},{"g":"s","p":"R","x":40.4,"y":1.07},{"g":"s","p":"R","x":41.8,"y":0.07},{"g":"s","p":"R","x":42.2,"y":-0.4},{"g":"s","p":"R","x":41.3,"y":-0.57},{"g":"s","p":"R","x":38.5,"y":-0.55},{"g":"s","p":"R","x":29.5,"y":-0.4},{"g":"s","p":"R","x":18.5,"y":-0.27},{"g":"s","p":"R","x":13.1,"y":-0.22},{"g":"s","p":"R","x":9.5,"y":-0.27},{"g":"s","p":"R","x":5.8,"y":-0.54},{"g":"s","p":"R","x":3.1,"y":-0.94},{"g":"s","p":"R","x":0.4,"y":-1.47},{"g":"s","p":"R","x":-1.1,"y":-2.0},{"g":"s","p":"R","x":-1.3,"y":-2.1},
  {"g":"d","p":"L","x":-56.7,"y":-2.1},{"g":"d","p":"L","x":-56.9,"y":-2.0},{"g":"d","p":"L","x":-59.3,"y":-1.27},{"g":"d","p":"L","x":-60.9,"y":-0.54},{"g":"d","p":"L","x":-61.1,"y":0.0},{"g":"d","p":"L","x":-60.8,"y":0.18},{"g":"d","p":"L","x":-60.5,"y":0.22},{"g":"d","p":"L","x":-54.2,"y":0.23},{"g":"d","p":"L","x":-46.9,"y":0.21},{"g":"d","p":"L","x":-36,"y":0.2},{"g":"d","p":"L","x":-28.7,"y":0.27},{"g":"d","p":"L","x":-25.1,"y":0.47},{"g":"d","p":"L","x":-21.5,"y":0.87},{"g":"d","p":"L","x":-19.6,"y":1.4},{"g":"d","p":"L","x":-18.4,"y":2.0},{"g":"d","p":"L","x":-18.3,"y":2.1},
  {"g":"d","p":"R","x":57,"y":2.1},{"g":"d","p":"R","x":57.1,"y":2.0},{"g":"d","p":"R","x":57.6,"y":1.07},{"g":"d","p":"R","x":58.5,"y":-0.13},{"g":"d","p":"R","x":57.6,"y":-0.8},{"g":"d","p":"R","x":54.9,"y":-1.08},{"g":"d","p":"R","x":49.5,"y":-0.97},{"g":"d","p":"R","x":40.4,"y":-0.67},{"g":"d","p":"R","x":29.5,"y":-0.4},{"g":"d","p":"R","x":18.5,"y":-0.27},{"g":"d","p":"R","x":13.1,"y":-0.23},{"g":"d","p":"R","x":10.4,"y":-0.3},{"g":"d","p":"R","x":7.6,"y":-0.6},{"g":"d","p":"R","x":5.5,"y":-1.07},{"g":"d","p":"R","x":4,"y":-1.6},{"g":"d","p":"R","x":3.1,"y":-2.0},{"g":"d","p":"R","x":3.0,"y":-2.1}
 ],
 "b4l":[{"t":"C","x":-60.5,"y":0.43},{"t":"D","x":-36,"y":0.43},{"t":"B","x":16.7,"y":-0.5},{"t":"A","x":61.8,"y":-1.2}],
 "b4t":[{"x":-26,"y":1.28,"d":15},{"x":49.6,"y":0.58,"d":180}],
 "b4s":[{"x":49.4,"y":0.8,"x2":49.5,"y2":0.68}]
},
"spacing":-7.9,
"resolve":{"scale":{"color":"independent","strokeDash":"independent","angle":"independent"}},
"vconcat":[
 {"resolve":{"scale":{"color":"independent","strokeDash":"independent","angle":"independent"}},
  "hconcat":[
  {"width":252,"height":198,
   "title":{"text":"Upper branch of T=320","anchor":"middle","frame":"group","fontSize":18,"fontWeight":"normal","baseline":"alphabetic","offset":0,"dy":21.3,"color":"#111"},
   "layer":[
    {"data":{"name":"a1c"},"transform":[{"window":[{"op":"row_number","as":"i"}]}],
     "mark":{"type":"line","clip":true,"strokeWidth":1.2,"color":"#2626d9"},
     "encoding":{
      "x":{"field":"x","type":"quantitative","scale":{"domain":[-10,320],"nice":false,"zero":false},"axis":{"orient":"bottom","values":[0,100,200,300],"title":"time (msec)","titleX":123,"titleY":32.7,"titleAlign":"center","titleBaseline":"alphabetic"}},
      "y":{"field":"y","type":"quantitative","scale":{"domain":[-70,70],"nice":false,"zero":false},"axis":{"orient":"left","values":[-60,-40,-20,0,20,40,60],"labelExpr":"replace(datum.label,'\u2212','-')","title":"V (mV)","titleFontSize":20.5,"titleX":-35,"titleY":107,"titleAngle":-90,"titleAlign":"center","titleBaseline":"alphabetic"}},
      "strokeDash":{"field":"g","type":"nominal","scale":{"domain":["s","d"],"range":[[1,0],[5,3]]},"legend":{"title":null,"orient":"top-right","offset":0,"labelExpr":"datum.label=='s'?'GCa = 2.74, GK = 4.0':'GCa = 4.77, GK = 8.0'","labelFontSize":11,"symbolStrokeColor":"#2626d9","symbolSize":180,"symbolStrokeWidth":1.2,"symbolType":"stroke","strokeColor":"#222","fillColor":"white","padding":4,"rowPadding":2}},
      "order":{"field":"i","type":"quantitative"}}},
    {"data":{"name":"a1l"},"mark":{"type":"text","fontSize":15,"color":"#2a2ad0"},
     "encoding":{
      "x":{"field":"x","type":"quantitative","scale":{"domain":[-10,320],"nice":false,"zero":false},"axis":{"orient":"top","values":[0,100,200,300],"labels":false,"title":"A1","titleX":-56,"titleY":5,"titleAlign":"left","titleBaseline":"alphabetic","titleAngle":0,"titleFont":"Liberation Serif","titleFontSize":22,"titleFontWeight":"bold","titleColor":"#000"}},
      "y":{"field":"y","type":"quantitative","scale":{"domain":[-70,70],"nice":false,"zero":false},"axis":{"orient":"right","values":[-60,-40,-20,0,20,40,60],"labels":false,"title":null}},
      "text":{"field":"t"}}},
    {"data":{"name":"a1r"},"mark":{"type":"text","fontSize":14.5,"color":"#e8201e"},
     "encoding":{
      "x":{"field":"x","type":"quantitative","scale":{"domain":[-10,320],"nice":false,"zero":false},"axis":null},
      "y":{"field":"y","type":"quantitative","scale":{"domain":[-70,70],"nice":false,"zero":false},"axis":null},
      "text":{"field":"t"}}}
   ],
   "resolve":{"axis":{"x":"independent","y":"independent"}}},
  {"width":252,"height":198,
   "title":{"text":"Lower branch of T=320","anchor":"middle","frame":"group","fontSize":18,"fontWeight":"normal","baseline":"alphabetic","offset":0,"dy":21.3,"color":"#111"},
   "layer":[
    {"data":{"name":"b1c"},"transform":[{"window":[{"op":"row_number","as":"i"}]}],
     "mark":{"type":"line","clip":true,"strokeWidth":1.2,"color":"#2626d9"},
     "encoding":{
      "x":{"field":"x","type":"quantitative","scale":{"domain":[-10,320],"nice":false,"zero":false},"axis":{"orient":"bottom","values":[0,100,200,300],"title":"time (msec)","titleX":123,"titleY":32.7,"titleAlign":"center","titleBaseline":"alphabetic"}},
      "y":{"field":"y","type":"quantitative","scale":{"domain":[-70,70],"nice":false,"zero":false},"axis":{"orient":"left","values":[-60,-40,-20,0,20,40,60],"labels":false,"title":null}},
      "strokeDash":{"field":"g","type":"nominal","scale":{"domain":["s","d"],"range":[[1,0],[5,3]]},"legend":{"title":null,"orient":"top-right","offset":0,"labelExpr":"datum.label=='s'?'GCa = 3.26, GK = 4.0':'GCa = 6.12, GK = 8.0'","labelFontSize":11,"symbolStrokeColor":"#2626d9","symbolSize":180,"symbolStrokeWidth":1.2,"symbolType":"stroke","strokeColor":"#222","fillColor":"white","padding":4,"rowPadding":2}},
      "order":{"field":"i","type":"quantitative"}}},
    {"data":{"name":"b1l"},"mark":{"type":"text","fontSize":15,"color":"#2a2ad0"},
     "encoding":{
      "x":{"field":"x","type":"quantitative","scale":{"domain":[-10,320],"nice":false,"zero":false},"axis":{"orient":"top","values":[0,100,200,300],"labels":false,"title":"B1","titleX":-31,"titleY":5,"titleAlign":"left","titleBaseline":"alphabetic","titleAngle":0,"titleFont":"Liberation Serif","titleFontSize":22,"titleFontWeight":"bold","titleColor":"#000"}},
      "y":{"field":"y","type":"quantitative","scale":{"domain":[-70,70],"nice":false,"zero":false},"axis":{"orient":"right","values":[-60,-40,-20,0,20,40,60],"labels":false,"title":null}},
      "text":{"field":"t"}}},
    {"data":{"name":"b1r"},"mark":{"type":"text","fontSize":14.5,"color":"#e8201e"},
     "encoding":{
      "x":{"field":"x","type":"quantitative","scale":{"domain":[-10,320],"nice":false,"zero":false},"axis":null},
      "y":{"field":"y","type":"quantitative","scale":{"domain":[-70,70],"nice":false,"zero":false},"axis":null},
      "text":{"field":"t"}}}
   ],
   "resolve":{"axis":{"x":"independent","y":"independent"}}}
 ],"spacing":77.7,"bounds":"flush"},
 {"columns":2,"spacing":{"row":32,"column":77.7},"bounds":"flush",
  "resolve":{"scale":{"color":"independent","strokeDash":"independent","angle":"independent"}},
  "concat":[
    {"width":252,"height":200,
     "layer":[
      {"data":{"name":"a2c"},"transform":[{"window":[{"op":"row_number","as":"i"}]}],
       "mark":{"type":"line","clip":true,"strokeWidth":1.2},
       "encoding":{
        "x":{"field":"x","type":"quantitative","scale":{"domain":[-70,70],"nice":false,"zero":false},"axis":{"orient":"bottom","values":[-60,-40,-20,0,20,40,60],"labels":false,"title":null}},
        "y":{"field":"y","type":"quantitative","scale":{"domain":[-0.028,0.8],"nice":false,"zero":false},"axis":{"orient":"left","values":[0,0.1,0.2,0.3,0.4,0.5,0.6,0.7,0.8],"labelExpr":"round(datum.value*10)%2==0 ? (datum.value==0 ? '0' : format(datum.value,'.1f')) : ''","title":"w","titleFontSize":20.5,"titleX":-36,"titleY":96,"titleAngle":-90,"titleAlign":"center","titleBaseline":"alphabetic"}},
        "color":{"field":"k","type":"nominal","scale":{"domain":["v-nullclines","w-nullcline","trajectory"],"range":["#e3231f","#1f9a2a","#2626d9"]},"legend":{"title":null,"orient":"top-right","offset":0,"labelFontSize":10.5,"symbolType":"stroke","symbolSize":150,"symbolStrokeWidth":1.3,"strokeColor":"#222","fillColor":"white","padding":3,"rowPadding":0}},
        "strokeDash":{"field":"g","type":"nominal","scale":{"domain":["s","d"],"range":[[1,0],[5,3]]},"legend":null},
        "order":{"field":"i","type":"quantitative"}}},
      {"data":{"name":"a2l"},"mark":{"type":"text","fontSize":15,"color":"#2a2ad0"},
       "encoding":{
        "x":{"field":"x","type":"quantitative","scale":{"domain":[-70,70],"nice":false,"zero":false},"axis":{"orient":"top","values":[-60,-40,-20,0,20,40,60],"labels":false,"title":"A2","titleX":-56,"titleY":-2.5,"titleAlign":"left","titleBaseline":"alphabetic","titleAngle":0,"titleFont":"Liberation Serif","titleFontSize":22,"titleFontWeight":"bold","titleColor":"#000"}},
        "y":{"field":"y","type":"quantitative","scale":{"domain":[-0.028,0.8],"nice":false,"zero":false},"axis":{"orient":"right","values":[0,0.1,0.2,0.3,0.4,0.5,0.6,0.7,0.8],"labels":false,"title":null}},
        "text":{"field":"t"}}},
      {"data":{"name":"a2s"},"mark":{"type":"rule","color":"#1010ee","strokeWidth":1.5},
       "encoding":{
        "x":{"field":"x","type":"quantitative","scale":{"domain":[-70,70],"nice":false,"zero":false},"axis":null},
        "y":{"field":"y","type":"quantitative","scale":{"domain":[-0.028,0.8],"nice":false,"zero":false},"axis":null},
        "x2":{"field":"x2"},"y2":{"field":"y2"}}},
      {"data":{"name":"a2t"},"mark":{"type":"point","shape":"triangle","filled":true,"size":150,"color":"#1010ee","opacity":1},
       "encoding":{
        "x":{"field":"x","type":"quantitative","scale":{"domain":[-70,70],"nice":false,"zero":false},"axis":null},
        "y":{"field":"y","type":"quantitative","scale":{"domain":[-0.028,0.8],"nice":false,"zero":false},"axis":null},
        "angle":{"field":"d","type":"quantitative","scale":{"domain":[0,360],"range":[0,360]},"legend":null}}}
     ],
     "resolve":{"axis":{"x":"independent","y":"independent"}}},
    {"width":252,"height":200,
     "layer":[
      {"data":{"name":"b2c"},"transform":[{"window":[{"op":"row_number","as":"i"}]}],
       "mark":{"type":"line","clip":true,"strokeWidth":1.2},
       "encoding":{
        "x":{"field":"x","type":"quantitative","scale":{"domain":[-70,70],"nice":false,"zero":false},"axis":{"orient":"bottom","values":[-60,-40,-20,0,20,40,60],"labels":false,"title":null}},
        "y":{"field":"y","type":"quantitative","scale":{"domain":[-0.028,0.8],"nice":false,"zero":false},"axis":{"orient":"left","values":[0,0.1,0.2,0.3,0.4,0.5,0.6,0.7,0.8],"labels":false,"title":null}},
        "color":{"field":"k","type":"nominal","scale":{"domain":["v-nullclines","w-nullcline","trajectory"],"range":["#e3231f","#1f9a2a","#2626d9"]},"legend":null},
        "strokeDash":{"field":"g","type":"nominal","scale":{"domain":["s","d"],"range":[[1,0],[5,3]]},"legend":null},
        "order":{"field":"i","type":"quantitative"}}},
      {"data":{"name":"b2l"},"mark":{"type":"text","fontSize":15,"color":"#2a2ad0"},
       "encoding":{
        "x":{"field":"x","type":"quantitative","scale":{"domain":[-70,70],"nice":false,"zero":false},"axis":{"orient":"top","values":[-60,-40,-20,0,20,40,60],"labels":false,"title":"B2","titleX":-31,"titleY":-3,"titleAlign":"left","titleBaseline":"alphabetic","titleAngle":0,"titleFont":"Liberation Serif","titleFontSize":22,"titleFontWeight":"bold","titleColor":"#000"}},
        "y":{"field":"y","type":"quantitative","scale":{"domain":[-0.028,0.8],"nice":false,"zero":false},"axis":{"orient":"right","values":[0,0.1,0.2,0.3,0.4,0.5,0.6,0.7,0.8],"labels":false,"title":null}},
        "text":{"field":"t"}}},
      {"data":{"name":"b2s"},"mark":{"type":"rule","color":"#1010ee","strokeWidth":1.5},
       "encoding":{
        "x":{"field":"x","type":"quantitative","scale":{"domain":[-70,70],"nice":false,"zero":false},"axis":null},
        "y":{"field":"y","type":"quantitative","scale":{"domain":[-0.028,0.8],"nice":false,"zero":false},"axis":null},
        "x2":{"field":"x2"},"y2":{"field":"y2"}}},
      {"data":{"name":"b2t"},"mark":{"type":"point","shape":"triangle","filled":true,"size":150,"color":"#1010ee","opacity":1},
       "encoding":{
        "x":{"field":"x","type":"quantitative","scale":{"domain":[-70,70],"nice":false,"zero":false},"axis":null},
        "y":{"field":"y","type":"quantitative","scale":{"domain":[-0.028,0.8],"nice":false,"zero":false},"axis":null},
        "angle":{"field":"d","type":"quantitative","scale":{"domain":[0,360],"range":[0,360]},"legend":null}}}
     ],
     "resolve":{"axis":{"x":"independent","y":"independent"}}},
    {"width":252,"height":201,
     "layer":[
      {"data":{"values":[{}]},"mark":{"type":"rule","color":"#9a9a9a","strokeDash":[4,3],"strokeWidth":1},
       "encoding":{"y":{"datum":0,"type":"quantitative","scale":{"domain":[-10,15],"nice":false,"zero":false},"axis":null}}},
      {"data":{"name":"a3c"},"transform":[{"window":[{"op":"row_number","as":"i"}]}],
       "mark":{"type":"line","clip":true,"strokeWidth":1.2,"color":"#2626d9"},
       "encoding":{
        "x":{"field":"x","type":"quantitative","scale":{"domain":[-70,70],"nice":false,"zero":false},"axis":{"orient":"bottom","values":[-60,-40,-20,0,20,40,60],"labels":false,"title":null}},
        "y":{"field":"y","type":"quantitative","scale":{"domain":[-10,15],"nice":false,"zero":false},"axis":{"orient":"left","values":[-10,-5,0,5,10,15],"labelExpr":"replace(datum.label,'\u2212','-')","title":"dV / dt (mV/msec)","titleX":-41,"titleY":108,"titleAngle":-90,"titleAlign":"center","titleBaseline":"alphabetic"}},
        "strokeDash":{"field":"g","type":"nominal","scale":{"domain":["s","d"],"range":[[1,0],[5,3]]},"legend":null},
        "order":{"field":"i","type":"quantitative"}}},
      {"data":{"name":"a3l"},"mark":{"type":"text","fontSize":15,"color":"#2a2ad0"},
       "encoding":{
        "x":{"field":"x","type":"quantitative","scale":{"domain":[-70,70],"nice":false,"zero":false},"axis":{"orient":"top","values":[-60,-40,-20,0,20,40,60],"labels":false,"title":"A3","titleX":-56,"titleY":-2,"titleAlign":"left","titleBaseline":"alphabetic","titleAngle":0,"titleFont":"Liberation Serif","titleFontSize":22,"titleFontWeight":"bold","titleColor":"#000"}},
        "y":{"field":"y","type":"quantitative","scale":{"domain":[-10,15],"nice":false,"zero":false},"axis":{"orient":"right","values":[-10,-5,0,5,10,15],"labels":false,"title":null}},
        "text":{"field":"t"}}},
      {"data":{"name":"a3s"},"mark":{"type":"rule","color":"#1010ee","strokeWidth":1.5},
       "encoding":{
        "x":{"field":"x","type":"quantitative","scale":{"domain":[-70,70],"nice":false,"zero":false},"axis":null},
        "y":{"field":"y","type":"quantitative","scale":{"domain":[-10,15],"nice":false,"zero":false},"axis":null},
        "x2":{"field":"x2"},"y2":{"field":"y2"}}},
      {"data":{"name":"a3t"},"mark":{"type":"point","shape":"triangle","filled":true,"size":150,"color":"#1010ee","opacity":1},
       "encoding":{
        "x":{"field":"x","type":"quantitative","scale":{"domain":[-70,70],"nice":false,"zero":false},"axis":null},
        "y":{"field":"y","type":"quantitative","scale":{"domain":[-10,15],"nice":false,"zero":false},"axis":null},
        "angle":{"field":"d","type":"quantitative","scale":{"domain":[0,360],"range":[0,360]},"legend":null}}}
     ],
     "resolve":{"axis":{"x":"independent","y":"independent"}}},
    {"width":252,"height":201,
     "layer":[
      {"data":{"values":[{}]},"mark":{"type":"rule","color":"#9a9a9a","strokeDash":[4,3],"strokeWidth":1},
       "encoding":{"y":{"datum":0,"type":"quantitative","scale":{"domain":[-13.4,19.3],"nice":false,"zero":false},"axis":null}}},
      {"data":{"name":"b3c"},"transform":[{"window":[{"op":"row_number","as":"i"}]}],
       "mark":{"type":"line","clip":true,"strokeWidth":1.2,"color":"#2626d9"},
       "encoding":{
        "x":{"field":"x","type":"quantitative","scale":{"domain":[-70,70],"nice":false,"zero":false},"axis":{"orient":"bottom","values":[-60,-40,-20,0,20,40,60],"labels":false,"title":null}},
        "y":{"field":"y","type":"quantitative","scale":{"domain":[-13.4,19.3],"nice":false,"zero":false},"axis":{"orient":"left","values":[-10,-5,0,5,10,15],"labels":false,"title":null}},
        "strokeDash":{"field":"g","type":"nominal","scale":{"domain":["s","d"],"range":[[1,0],[5,3]]},"legend":null},
        "order":{"field":"i","type":"quantitative"}}},
      {"data":{"name":"b3l"},"mark":{"type":"text","fontSize":15,"color":"#2a2ad0"},
       "encoding":{
        "x":{"field":"x","type":"quantitative","scale":{"domain":[-70,70],"nice":false,"zero":false},"axis":{"orient":"top","values":[-60,-40,-20,0,20,40,60],"labels":false,"title":"B3","titleX":-31,"titleY":1,"titleAlign":"left","titleBaseline":"alphabetic","titleAngle":0,"titleFont":"Liberation Serif","titleFontSize":22,"titleFontWeight":"bold","titleColor":"#000"}},
        "y":{"field":"y","type":"quantitative","scale":{"domain":[-13.4,19.3],"nice":false,"zero":false},"axis":{"orient":"right","values":[-10,-5,0,5,10,15],"labels":false,"title":null}},
        "text":{"field":"t"}}},
      {"data":{"name":"b3s"},"mark":{"type":"rule","color":"#1010ee","strokeWidth":1.5},
       "encoding":{
        "x":{"field":"x","type":"quantitative","scale":{"domain":[-70,70],"nice":false,"zero":false},"axis":null},
        "y":{"field":"y","type":"quantitative","scale":{"domain":[-13.4,19.3],"nice":false,"zero":false},"axis":null},
        "x2":{"field":"x2"},"y2":{"field":"y2"}}},
      {"data":{"name":"b3t"},"mark":{"type":"point","shape":"triangle","filled":true,"size":150,"color":"#1010ee","opacity":1},
       "encoding":{
        "x":{"field":"x","type":"quantitative","scale":{"domain":[-70,70],"nice":false,"zero":false},"axis":null},
        "y":{"field":"y","type":"quantitative","scale":{"domain":[-13.4,19.3],"nice":false,"zero":false},"axis":null},
        "angle":{"field":"d","type":"quantitative","scale":{"domain":[0,360],"range":[0,360]},"legend":null}}}
     ],
     "resolve":{"axis":{"x":"independent","y":"independent"}}},
   {"width":252,"height":199,
    "layer":[
     {"data":{"values":[{}]},"mark":{"type":"rule","color":"#9a9a9a","strokeDash":[4,3],"strokeWidth":1},
      "encoding":{"y":{"datum":0,"type":"quantitative","scale":{"domain":[-2,2],"nice":false,"zero":false},"axis":null}}},
     {"data":{"name":"a4c"},"transform":[{"window":[{"op":"row_number","as":"i"}]}],
      "mark":{"type":"line","clip":true,"strokeWidth":1.2,"color":"#2626d9"},
      "encoding":{
       "x":{"field":"x","type":"quantitative","scale":{"domain":[-70,70],"nice":false,"zero":false},"axis":{"orient":"bottom","values":[-60,-40,-20,0,20,40,60],"labelExpr":"replace(datum.label,'\u2212','-')","title":"V (mV)","titleX":123,"titleY":34,"titleAlign":"center","titleBaseline":"alphabetic"}},
       "y":{"field":"y","type":"quantitative","scale":{"domain":[-2,2],"nice":false,"zero":false},"axis":{"orient":"left","values":[-2,-1.5,-1,-0.5,0,0.5,1,1.5,2],"labelExpr":"datum.value%1==0 ? (datum.value==0 ? '0' : replace(format(datum.value,'.1f'),'\u2212','-')) : ''","title":"dV / dt (mV/msec)","titleX":-41,"titleY":109,"titleAngle":-90,"titleAlign":"center","titleBaseline":"alphabetic"}},
       "strokeDash":{"field":"g","type":"nominal","scale":{"domain":["s","d"],"range":[[1,0],[5,3]]},"legend":null},
       "detail":{"field":"p"},
       "order":{"field":"i","type":"quantitative"}}},
     {"data":{"name":"a4l"},"mark":{"type":"text","fontSize":15,"color":"#2a2ad0"},
      "encoding":{
       "x":{"field":"x","type":"quantitative","scale":{"domain":[-70,70],"nice":false,"zero":false},"axis":{"orient":"top","values":[-60,-40,-20,0,20,40,60],"labels":false,"title":"A4","titleX":-56,"titleY":1,"titleAlign":"left","titleBaseline":"alphabetic","titleAngle":0,"titleFont":"Liberation Serif","titleFontSize":22,"titleFontWeight":"bold","titleColor":"#000"}},
       "y":{"field":"y","type":"quantitative","scale":{"domain":[-2,2],"nice":false,"zero":false},"axis":{"orient":"right","values":[-2,-1.5,-1,-0.5,0,0.5,1,1.5,2],"labels":false,"title":null}},
       "text":{"field":"t"}}},
     {"data":{"name":"a4s"},"mark":{"type":"rule","color":"#1010ee","strokeWidth":1.5},
      "encoding":{
       "x":{"field":"x","type":"quantitative","scale":{"domain":[-70,70],"nice":false,"zero":false},"axis":null},
       "y":{"field":"y","type":"quantitative","scale":{"domain":[-2,2],"nice":false,"zero":false},"axis":null},
       "x2":{"field":"x2"},"y2":{"field":"y2"}}},
     {"data":{"name":"a4t"},"mark":{"type":"point","shape":"triangle","filled":true,"size":150,"color":"#1010ee","opacity":1},
      "encoding":{
       "x":{"field":"x","type":"quantitative","scale":{"domain":[-70,70],"nice":false,"zero":false},"axis":null},
       "y":{"field":"y","type":"quantitative","scale":{"domain":[-2,2],"nice":false,"zero":false},"axis":null},
       "angle":{"field":"d","type":"quantitative","scale":{"domain":[0,360],"range":[0,360]},"legend":null}}}
    ],
    "resolve":{"axis":{"x":"independent","y":"independent"}}},
   {"width":252,"height":199,
    "layer":[
     {"data":{"values":[{}]},"mark":{"type":"rule","color":"#9a9a9a","strokeDash":[4,3],"strokeWidth":1},
      "encoding":{"y":{"datum":0,"type":"quantitative","scale":{"domain":[-2,2],"nice":false,"zero":false},"axis":null}}},
     {"data":{"name":"b4c"},"transform":[{"window":[{"op":"row_number","as":"i"}]}],
      "mark":{"type":"line","clip":true,"strokeWidth":1.2,"color":"#2626d9"},
      "encoding":{
       "x":{"field":"x","type":"quantitative","scale":{"domain":[-70,70],"nice":false,"zero":false},"axis":{"orient":"bottom","values":[-60,-40,-20,0,20,40,60],"labelExpr":"replace(datum.label,'\u2212','-')","title":"V (mV)","titleX":123,"titleY":34,"titleAlign":"center","titleBaseline":"alphabetic"}},
       "y":{"field":"y","type":"quantitative","scale":{"domain":[-2,2],"nice":false,"zero":false},"axis":{"orient":"left","values":[-2,-1.5,-1,-0.5,0,0.5,1,1.5,2],"labels":false,"title":null}},
       "strokeDash":{"field":"g","type":"nominal","scale":{"domain":["s","d"],"range":[[1,0],[5,3]]},"legend":null},
       "detail":{"field":"p"},
       "order":{"field":"i","type":"quantitative"}}},
     {"data":{"name":"b4l"},"mark":{"type":"text","fontSize":15,"color":"#2a2ad0"},
      "encoding":{
       "x":{"field":"x","type":"quantitative","scale":{"domain":[-70,70],"nice":false,"zero":false},"axis":{"orient":"top","values":[-60,-40,-20,0,20,40,60],"labels":false,"title":"B4","titleX":-31,"titleY":4,"titleAlign":"left","titleBaseline":"alphabetic","titleAngle":0,"titleFont":"Liberation Serif","titleFontSize":22,"titleFontWeight":"bold","titleColor":"#000"}},
       "y":{"field":"y","type":"quantitative","scale":{"domain":[-2,2],"nice":false,"zero":false},"axis":{"orient":"right","values":[-2,-1.5,-1,-0.5,0,0.5,1,1.5,2],"labels":false,"title":null}},
       "text":{"field":"t"}}},
     {"data":{"name":"b4s"},"mark":{"type":"rule","color":"#1010ee","strokeWidth":1.5},
      "encoding":{
       "x":{"field":"x","type":"quantitative","scale":{"domain":[-70,70],"nice":false,"zero":false},"axis":null},
       "y":{"field":"y","type":"quantitative","scale":{"domain":[-2,2],"nice":false,"zero":false},"axis":null},
       "x2":{"field":"x2"},"y2":{"field":"y2"}}},
     {"data":{"name":"b4t"},"mark":{"type":"point","shape":"triangle","filled":true,"size":150,"color":"#1010ee","opacity":1},
      "encoding":{
       "x":{"field":"x","type":"quantitative","scale":{"domain":[-70,70],"nice":false,"zero":false},"axis":null},
       "y":{"field":"y","type":"quantitative","scale":{"domain":[-2,2],"nice":false,"zero":false},"axis":null},
       "angle":{"field":"d","type":"quantitative","scale":{"domain":[0,360],"range":[0,360]},"legend":null}}}
    ],
    "resolve":{"axis":{"x":"independent","y":"independent"}}}
 ]}
]
}
